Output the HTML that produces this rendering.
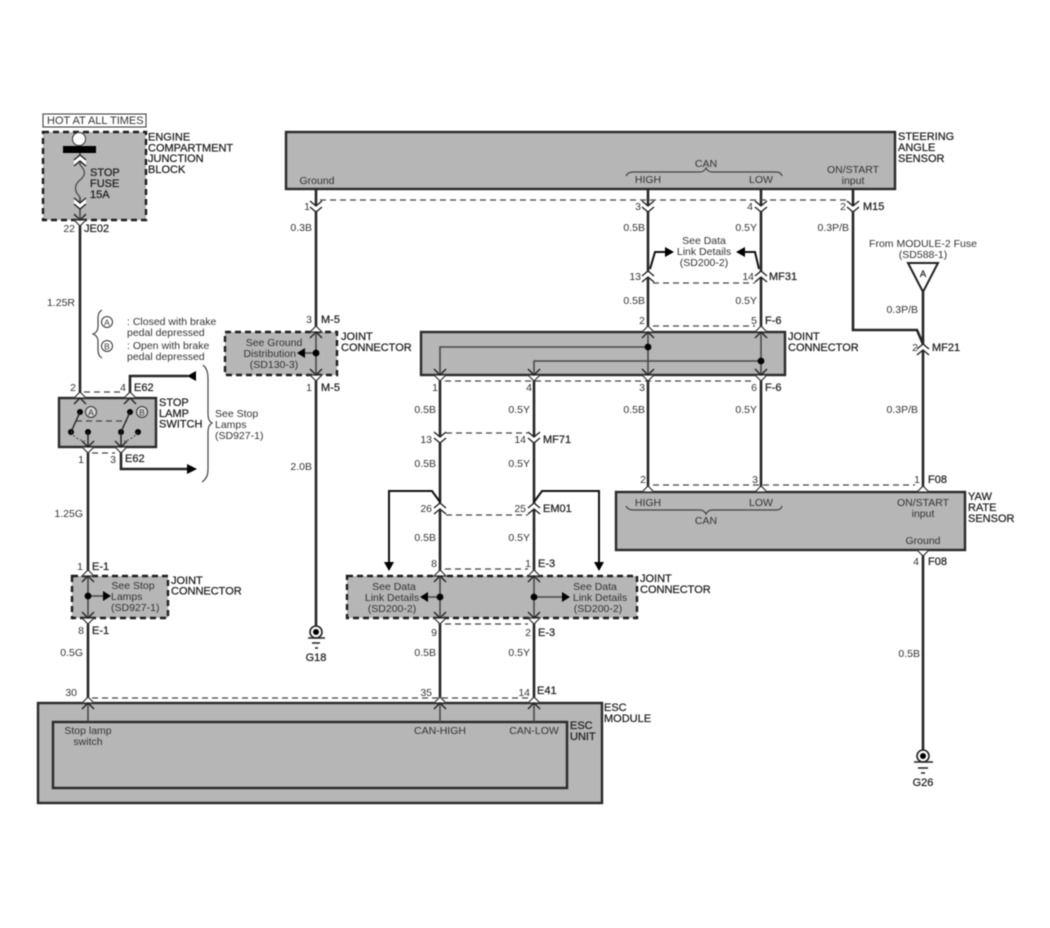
<!DOCTYPE html>
<html><head><meta charset="utf-8"><style>
html,body{margin:0;padding:0;background:#fff;width:1050px;height:928px;overflow:hidden}
svg{display:block;filter:blur(.5px)}
text{font-family:"Liberation Sans",sans-serif;font-size:10.5px;fill:#333}
.b{fill:#222;stroke:#222;stroke-width:.25px;font-size:11px}
.m{text-anchor:middle}
.e{text-anchor:end}
.w{fill:none;stroke:#262626;stroke-width:2.6}
.t{fill:none;stroke:#4a4a4a;stroke-width:1.6}
.k{fill:none;stroke:#111;stroke-width:2}
.d{fill:none;stroke:#444;stroke-width:1.2;stroke-dasharray:6 4}
.box{fill:#b6b6b6;stroke:#2a2a2a;stroke-width:2.4}
.db{fill:#b6b6b6;stroke:#1c1c1c;stroke-width:2.4;stroke-dasharray:6 4}
.c{fill:none;stroke:#222;stroke-width:1.4}
.h{fill:none;stroke:#444;stroke-width:1.2}
</style></head><body>
<svg width="1050" height="928" viewBox="0 0 1050 928" xmlns="http://www.w3.org/2000/svg">
<defs>
<g id="dn"><path d="M-6-5L0 0 6-5V1L0 6-6 1Z" fill="#fff"/><path class="c" d="M-6-5L0 0 6-5M-6 1L0 6 6 1"/></g>
<g id="up"><path d="M-6 5L0 0 6 5V11L0 6-6 11Z" fill="#fff"/><path class="c" d="M-6 5L0 0 6 5M-6 11L0 6 6 11"/></g>
<g id="ut"><path d="M-6 0L0-6 6 0Z" fill="#fff" stroke="#333" stroke-width="1.2"/><path class="c" d="M-6 6L0 0 6 6"/></g>
<g id="dt"><path d="M-6 0L0 6 6 0Z" fill="#fff" stroke="#333" stroke-width="1.2"/><path class="c" d="M-6-6L0 0 6-6"/></g>
<path id="tt" d="M-6 0L0-6 6 0Z" fill="#fff" stroke="#333" stroke-width="1.2"/>
<path id="tb" d="M-6 0L0 6 6 0Z" fill="#fff" stroke="#333" stroke-width="1.2"/>
</defs>

<!-- boxes -->
<rect x="43" y="114" width="103" height="13" fill="#fff" stroke="#333" stroke-width="1"/>
<rect x="43" y="132" width="103" height="88" class="db"/>
<rect x="286" y="132" width="609" height="57" class="box"/>
<rect x="225" y="332" width="112" height="43" class="db"/>
<rect x="421" y="332" width="364" height="43" class="box"/>
<rect x="59" y="398" width="97" height="49" class="box"/>
<rect x="616" y="492" width="349" height="58" class="box"/>
<rect x="72" y="576" width="96" height="42" class="db"/>
<rect x="347" y="576" width="290" height="42" class="db"/>
<rect x="38" y="703" width="564" height="100" class="box"/>
<rect x="53" y="722" width="514" height="66" class="box"/>

<!-- main wires -->
<path class="w" d="M80 220V398M130 398V376H188M121 447V469H188M88 447V576M88 618V703"/>
<path class="w" d="M316 189V332M316 375V626"/>
<path class="w" d="M440 375V576M440 618V703M534 375V576M534 618V703"/>
<path class="w" d="M648 189V332M648 375V492M761 189V332M761 375V492"/>
<path class="w" d="M853 189V330H917L923 344M923 292V492M923 550V750"/>
<path class="k" d="M650 269L655 252H666M759 269L755 252H744"/>
<path class="k" d="M440 502L432 491H389V564M534 502L542 491H599V564"/>

<!-- thin inner wires -->
<path class="t" d="M80 153V165M80 197V220M88 576V618M316 332V375M440 576V618M534 576V618M648 332V375M761 332V375M88 703V722M440 703V722M534 703V722"/>
<path class="t" d="M440 375V347H648" stroke="#333"/>
<path class="t" d="M534 375V361H761" stroke="#666"/>
<path class="t" d="M316 353H304M88 596H104M440 597H428M534 597H562"/>
<path class="h" stroke-width="1.4" d="M80 165C86 171 86 175 80 180C74 185 74 191 80 197"/>

<!-- dashed ties -->
<path class="d" d="M320 200H848M653 283H755M653 326H755M445 381H755M446 433H528M446 515H528M445 569H528M445 624H528M653 485H915M84 392H124M92 453H115M92 698H530M76 421H127"/>

<!-- fuse block -->
<circle cx="79" cy="139" r="6.5" fill="#fff" stroke="#333" stroke-width="1"/>
<rect x="63" y="146" width="33" height="7" fill="#000"/>
<use href="#up" x="80" y="155"/>
<use href="#dn" x="80" y="203"/>
<use href="#dt" x="80" y="220"/>

<!-- connectors -->
<use href="#dn" x="316" y="206"/><use href="#dn" x="648" y="206"/><use href="#dn" x="761" y="206"/><use href="#dn" x="853" y="206"/>
<use href="#up" x="648" y="271"/><use href="#up" x="761" y="271"/>
<use href="#up" x="923" y="344"/>
<use href="#ut" x="316" y="332"/><use href="#dt" x="316" y="375"/>
<use href="#ut" x="648" y="332"/><use href="#ut" x="761" y="332"/>
<use href="#dt" x="440" y="375"/><use href="#dt" x="534" y="375"/><use href="#dt" x="648" y="375"/><use href="#dt" x="761" y="375"/>
<use href="#dn" x="440" y="437"/><use href="#dn" x="534" y="437"/>
<use href="#up" x="440" y="503"/><use href="#up" x="534" y="503"/>
<use href="#ut" x="440" y="576"/><use href="#ut" x="534" y="576"/>
<use href="#dt" x="440" y="618"/><use href="#dt" x="534" y="618"/>
<use href="#ut" x="80" y="398"/><use href="#ut" x="130" y="398"/>
<use href="#dt" x="88" y="447"/><use href="#dt" x="121" y="447"/>
<use href="#ut" x="88" y="576"/><use href="#dt" x="88" y="618"/>
<use href="#ut" x="88" y="703"/><use href="#ut" x="440" y="703"/><use href="#ut" x="534" y="703"/>
<use href="#tt" x="648" y="492"/><use href="#tt" x="761" y="492"/><use href="#tt" x="923" y="492"/>
<use href="#tb" x="923" y="550"/>

<!-- dots -->
<g fill="#000">
<circle cx="316" cy="353" r="3.4"/><circle cx="648" cy="347" r="3.4"/><circle cx="761" cy="361" r="3.4"/>
<circle cx="88" cy="596" r="3.4"/><circle cx="440" cy="597" r="3.4"/><circle cx="534" cy="597" r="3.4"/>
<circle cx="80" cy="412" r="3"/><circle cx="130" cy="412" r="3"/>
<circle cx="71" cy="432" r="3"/><circle cx="88" cy="432" r="3"/><circle cx="121" cy="432" r="3"/><circle cx="138" cy="432" r="3"/>
<!-- arrowheads -->
<path d="M297 353L305 348V358Z"/>
<path d="M111 596L103 591V601Z"/>
<path d="M420 597L428 592V602Z"/>
<path d="M570 597L562 592V602Z"/>
<path d="M674 252L665 247V257Z"/>
<path d="M736 252L745 247V257Z"/>
<path d="M187 376L196 371V381Z"/>
<path d="M197 469L187 464V474Z"/>
<path d="M389 571L384 562H394Z"/>
<path d="M599 571L594 562H604Z"/>
</g>

<!-- switch inside -->
<path d="M80 412L71 432M130 412L121 432M88 432V447M121 432V447" stroke="#222" stroke-width="1.4" fill="none"/>
<path d="M71 432Q76 440 85 441M138 432Q132 440 124 441" stroke="#444" stroke-width="1" stroke-dasharray="2 2" fill="none"/>
<circle cx="91" cy="412" r="5.5" fill="#d4d4d4" stroke="#333"/>
<circle cx="142" cy="412" r="5.5" fill="#d4d4d4" stroke="#333"/>
<text x="91" y="415.5" class="m" style="font-size:8.5px">A</text>
<text x="142" y="415.5" class="m" style="font-size:8.5px">B</text>

<!-- legend circles -->
<circle cx="107" cy="322" r="5.5" fill="#fff" stroke="#333"/>
<circle cx="107" cy="346" r="5.5" fill="#fff" stroke="#333"/>
<text x="107" y="325.5" class="m" style="font-size:8.5px">A</text>
<text x="107" y="349.5" class="m" style="font-size:8.5px">B</text>

<!-- braces -->
<path class="h" d="M102 310Q98 312 98 318V327Q98 332 93 334Q98 336 98 341V350Q98 356 102 358"/>
<path class="h" d="M203 365Q208 369 208 378V414Q208 421 212 423Q208 425 208 432V470Q208 478 202 482"/>
<path class="h" stroke-width="1.6" d="M626 176Q628 172 633 172H700Q704 172 706 168Q708 172 712 172H776Q781 172 782 176"/>
<path class="h" stroke-width="1.6" d="M626 506Q628 510 633 510H700Q704 510 706 514Q708 510 712 510H776Q781 510 782 506"/>

<!-- grounds -->
<g fill="none" stroke="#222">
<circle cx="316" cy="632" r="6" stroke-width="1.6"/><circle cx="923" cy="756" r="6" stroke-width="1.6"/>
</g>
<g fill="#000"><circle cx="316" cy="632" r="3"/><circle cx="923" cy="756" r="3"/></g>
<path d="M308 638H325M312 643H320M315 648H318M914 762H933M918 768H928M921 773H925" stroke="#222" stroke-width="1.5" fill="none"/>

<!-- module triangle -->
<path d="M908 263H938L923 292Z" fill="#fff" stroke="#222" stroke-width="2"/>
<text x="923" y="277" class="m b" style="font-size:9.5px">A</text>

<!-- text -->
<text x="47" y="124" style="font-size:11px">HOT AT ALL TIMES</text>
<g>
<text class="b" x="148" y="140.500">ENGINE</text><text class="b" x="148" y="151.500">COMPARTMENT</text><text class="b" x="148" y="162">JUNCTION</text><text class="b" x="148" y="173">BLOCK</text>
<text class="b" x="90" y="176">STOP</text><text class="b" x="90" y="187">FUSE</text><text class="b" x="90" y="198">15A</text>
<text class="b" x="84" y="232">JE02</text>
<text class="b" x="898" y="140">STEERING</text><text class="b" x="898" y="151">ANGLE</text><text class="b" x="898" y="162">SENSOR</text>
<text class="b" x="341" y="340">JOINT</text><text class="b" x="341" y="351">CONNECTOR</text>
<text class="b" x="788" y="340">JOINT</text><text class="b" x="788" y="351">CONNECTOR</text>
<text class="b" x="159" y="406">STOP</text><text class="b" x="159" y="417">LAMP</text><text class="b" x="159" y="427.500">SWITCH</text>
<text class="b" x="171" y="584">JOINT</text><text class="b" x="171" y="594.500">CONNECTOR</text>
<text class="b" x="640" y="582">JOINT</text><text class="b" x="640" y="593">CONNECTOR</text>
<text class="b" x="968" y="500">YAW</text><text class="b" x="968" y="511">RATE</text><text class="b" x="968" y="522">SENSOR</text>
<text class="b" x="604" y="711">ESC</text><text class="b" x="604" y="722">MODULE</text>
<text class="b" x="570" y="729">ESC</text><text class="b" x="570" y="740">UNIT</text>
<text class="b" x="134" y="391">E62</text><text class="b" x="125" y="462">E62</text>
<text class="b" x="92" y="570">E-1</text><text class="b" x="92" y="634">E-1</text>
<text class="b" x="321" y="323">M-5</text><text class="b" x="321" y="391">M-5</text>
<text class="b" x="863" y="210">M15</text><text class="b" x="769" y="280">MF31</text><text class="b" x="765" y="324">F-6</text><text class="b" x="765" y="391">F-6</text>
<text class="b" x="932" y="351">MF21</text><text class="b" x="543" y="443">MF71</text><text class="b" x="543" y="512">EM01</text>
<text class="b" x="538" y="567">E-3</text><text class="b" x="538" y="636">E-3</text><text class="b" x="537" y="694">E41</text>
<text class="b" x="928" y="483">F08</text><text class="b" x="928" y="565">F08</text>
<text class="b m" x="316" y="661">G18</text><text class="b m" x="923" y="786">G26</text>
</g>

<text x="75" y="232" class="e">22</text>
<text x="75" y="306" class="e">1.25R</text>
<text x="127" y="325">: Closed with brake</text><text x="127" y="336">pedal depressed</text>
<text x="127" y="349">: Open with brake</text><text x="127" y="360">pedal depressed</text>
<text x="76" y="391" class="e">2</text><text x="126" y="391" class="e">4</text>
<text x="215" y="417">See Stop</text><text x="215" y="428">Lamps</text><text x="215" y="439">(SD927-1)</text>
<text x="84" y="463" class="e">1</text><text x="116" y="463" class="e">3</text>
<text x="83" y="517" class="e">1.25G</text>
<text x="83" y="570" class="e">1</text><text x="84" y="634" class="e">8</text>
<text x="133" y="589" class="m">See Stop</text><text x="111" y="600">Lamps</text><text x="111" y="611">(SD927-1)</text>
<text x="83" y="656" class="e">0.5G</text><text x="77" y="696" class="e">30</text>

<text x="317" y="184" class="m">Ground</text>
<text x="310" y="210" class="e">1</text><text x="312" y="231" class="e">0.3B</text>
<text x="312" y="323" class="e">3</text><text x="312" y="391" class="e">1</text>
<text x="312" y="470" class="e">2.0B</text>
<text x="274" y="346" class="m">See Ground</text><text x="296" y="357" class="e">Distribution</text><text x="274" y="368" class="m">(SD130-3)</text>

<text x="648" y="183" class="m">HIGH</text><text x="761" y="183" class="m">LOW</text><text x="706" y="167" class="m">CAN</text>
<text x="853" y="173" class="m">ON/START</text><text x="853" y="184" class="m">input</text>
<text x="641" y="210" class="e">3</text><text x="753" y="210" class="e">4</text><text x="846" y="210" class="e">2</text>
<text x="645" y="231" class="e">0.5B</text><text x="757" y="231" class="e">0.5Y</text><text x="849" y="231" class="e">0.3P/B</text>
<text x="704" y="244" class="m">See Data</text><text x="704" y="255" class="m">Link Details</text><text x="704" y="266" class="m">(SD200-2)</text>
<text x="641" y="280" class="e">13</text><text x="754" y="280" class="e">14</text>
<text x="645" y="304" class="e">0.5B</text><text x="757" y="304" class="e">0.5Y</text>
<text x="645" y="324" class="e">2</text><text x="757" y="324" class="e">5</text>
<text x="923" y="247" class="m">From MODULE-2 Fuse</text><text x="923" y="258" class="m">(SD588-1)</text>
<text x="918" y="313" class="e">0.3P/B</text><text x="918" y="351" class="e">2</text><text x="918" y="413" class="e">0.3P/B</text>

<text x="438" y="391" class="e">1</text><text x="532" y="391" class="e">4</text><text x="645" y="391" class="e">3</text><text x="757" y="391" class="e">6</text>
<text x="436" y="413" class="e">0.5B</text><text x="530" y="413" class="e">0.5Y</text><text x="645" y="413" class="e">0.5B</text><text x="757" y="413" class="e">0.5Y</text>
<text x="432" y="443" class="e">13</text><text x="526" y="443" class="e">14</text>
<text x="436" y="467" class="e">0.5B</text><text x="530" y="467" class="e">0.5Y</text>
<text x="432" y="512" class="e">26</text><text x="526" y="512" class="e">25</text>
<text x="436" y="541" class="e">0.5B</text><text x="530" y="541" class="e">0.5Y</text>
<text x="437" y="567" class="e">8</text><text x="531" y="567" class="e">1</text>
<text x="394" y="590" class="m">See Data</text><text x="392" y="601" class="m">Link Details</text><text x="392" y="612" class="m">(SD200-2)</text>
<text x="595" y="590" class="m">See Data</text><text x="600" y="601" class="m">Link Details</text><text x="598" y="612" class="m">(SD200-2)</text>
<text x="437" y="636" class="e">9</text><text x="531" y="636" class="e">2</text>
<text x="436" y="656" class="e">0.5B</text><text x="530" y="656" class="e">0.5Y</text>
<text x="432" y="696" class="e">35</text><text x="530" y="696" class="e">14</text>

<text x="88" y="734" class="m">Stop lamp</text><text x="88" y="745" class="m">switch</text>
<text x="440" y="734" class="m">CAN-HIGH</text><text x="534" y="734" class="m">CAN-LOW</text>

<text x="646" y="483" class="e">2</text><text x="758" y="483" class="e">3</text><text x="920" y="483" class="e">1</text>
<text x="648" y="506" class="m">HIGH</text><text x="761" y="506" class="m">LOW</text><text x="706" y="524" class="m">CAN</text>
<text x="923" y="506" class="m">ON/START</text><text x="923" y="517" class="m">input</text><text x="923" y="544" class="m">Ground</text>
<text x="919" y="565" class="e">4</text><text x="920" y="657" class="e">0.5B</text>
</svg>
</body></html>
